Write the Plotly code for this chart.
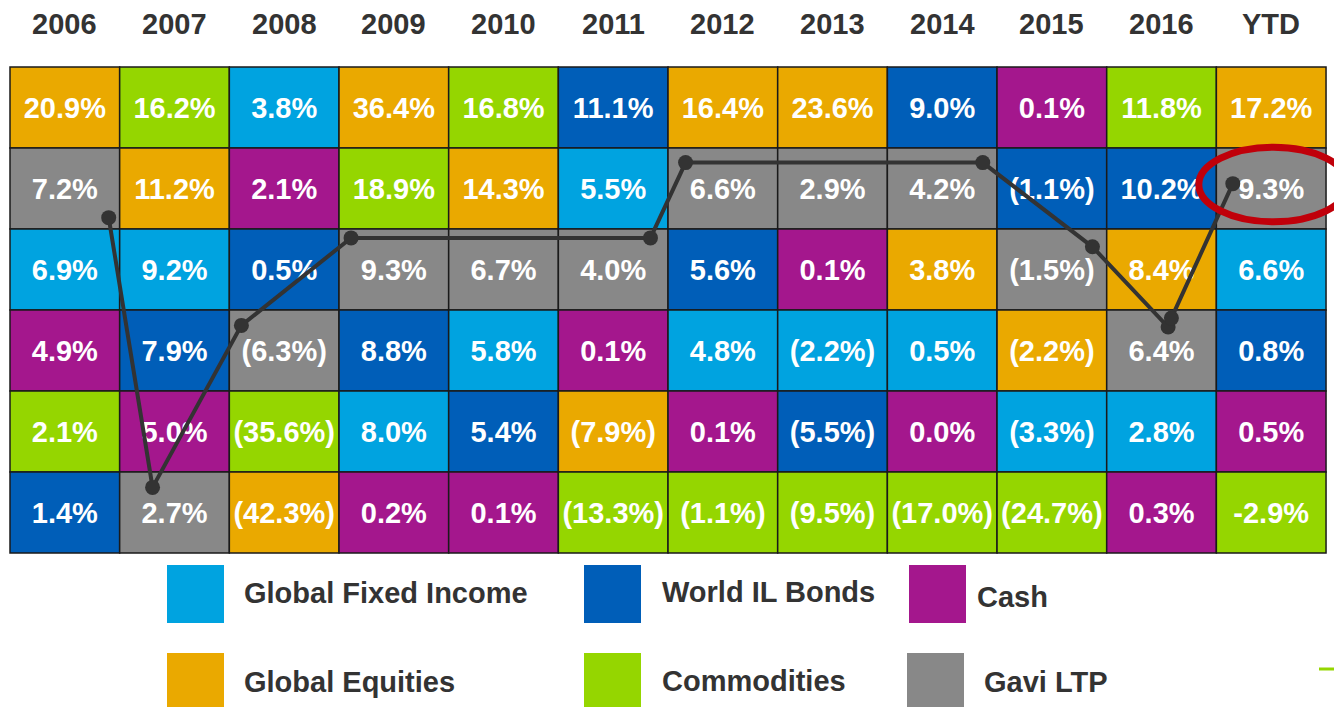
import plotly.graph_objects as go

# ---------------- data ----------------
years = ["2006", "2007", "2008", "2009", "2010", "2011",
         "2012", "2013", "2014", "2015", "2016", "YTD"]

# each column lists returns from best (top) to worst (bottom)
returns = {
    "2006": [20.9, 7.2, 6.9, 4.9, 2.1, 1.4],
    "2007": [16.2, 11.2, 9.2, 7.9, 5.0, 2.7],
    "2008": [3.8, 2.1, 0.5, -6.3, -35.6, -42.3],
    "2009": [36.4, 18.9, 9.3, 8.8, 8.0, 0.2],
    "2010": [16.8, 14.3, 6.7, 5.8, 5.4, 0.1],
    "2011": [11.1, 5.5, 4.0, 0.1, -7.9, -13.3],
    "2012": [16.4, 6.6, 5.6, 4.8, 0.1, -1.1],
    "2013": [23.6, 2.9, 0.1, -2.2, -5.5, -9.5],
    "2014": [9.0, 4.2, 3.8, 0.5, 0.0, -17.0],
    "2015": [0.1, -1.1, -1.5, -2.2, -3.3, -24.7],
    "2016": [11.8, 10.2, 8.4, 6.4, 2.8, 0.3],
    "YTD":  [17.2, 9.3, 6.6, 0.8, 0.5, -2.9],
}
assets = {
    "2006": ["GE", "LTP", "GFI", "CASH", "COM", "WIL"],
    "2007": ["COM", "GE", "GFI", "WIL", "CASH", "LTP"],
    "2008": ["GFI", "CASH", "WIL", "LTP", "COM", "GE"],
    "2009": ["GE", "COM", "LTP", "WIL", "GFI", "CASH"],
    "2010": ["COM", "GE", "LTP", "GFI", "WIL", "CASH"],
    "2011": ["WIL", "GFI", "LTP", "CASH", "GE", "COM"],
    "2012": ["GE", "LTP", "WIL", "GFI", "CASH", "COM"],
    "2013": ["GE", "LTP", "CASH", "GFI", "WIL", "COM"],
    "2014": ["WIL", "LTP", "GE", "GFI", "CASH", "COM"],
    "2015": ["CASH", "WIL", "LTP", "GE", "GFI", "COM"],
    "2016": ["COM", "WIL", "GE", "LTP", "GFI", "CASH"],
    "YTD":  ["GE", "LTP", "GFI", "WIL", "CASH", "COM"],
}
asset_names = {
    "GFI": "Global Fixed Income", "WIL": "World IL Bonds", "CASH": "Cash",
    "GE": "Global Equities", "COM": "Commodities", "LTP": "Gavi LTP",
}
asset_colors = {
    "GFI": "#00A3E0", "WIL": "#005EB8", "CASH": "#A4178D",
    "GE": "#EAA900", "COM": "#95D600", "LTP": "#888888",
}
legend_order = ["GFI", "WIL", "CASH", "GE", "COM", "LTP"]

# path of the Gavi LTP line (column units, row units from top)
gavi_path_x = [0.90, 1.30, 2.11, 3.11, 5.84, 6.16, 8.87, 9.87, 10.56, 10.59, 11.15]
gavi_path_y = [1.86, 5.19, 3.19, 2.11, 2.11, 1.18, 1.18, 2.22, 3.21, 3.10, 1.44]

highlight = ("YTD", 1)

# ---------------- figure ----------------
W, H = 1342, 707
OFF = 8  # page body margin compensation
X0_PX, COL_W = 10 - OFF, 109.67
Y0_PX, ROW_H = 67 - OFF, 81
FONT = "Liberation Sans, Arial, sans-serif"

fig = go.Figure()
shapes = []
annotations = []

def fmt(v, year):
    if v < 0 and year != "YTD":
        return f"({abs(v):.1f}%)"
    return f"{v:.1f}%"

tx, ty, tt = [], [], []
for ci, yr in enumerate(years):
    for ri, (v, a) in enumerate(zip(returns[yr], assets[yr])):
        shapes.append(dict(type="rect", xref="x", yref="y",
                           x0=ci, x1=ci + 1, y0=ri, y1=ri + 1,
                           fillcolor=asset_colors[a],
                           line=dict(color="#1a1a1a", width=1.5),
                           layer="below"))
        tx.append(ci + 0.5)
        ty.append(ri + 0.54)
        tt.append(fmt(v, yr))
    annotations.append(dict(x=ci + 0.5, y=-0.53, xref="x", yref="y",
                            text=yr, showarrow=False,
                            font=dict(family=FONT, size=29, color="#333333",
                                      weight="bold")))

fig.add_trace(go.Scatter(x=tx, y=ty, text=tt, mode="text",
                         textposition="middle center",
                         textfont=dict(family=FONT, size=29, color="white",
                                       weight="bold"),
                         hoverinfo="skip", showlegend=False))

fig.add_trace(go.Scatter(x=gavi_path_x, y=gavi_path_y, mode="lines+markers",
                         line=dict(color="#333333", width=4),
                         marker=dict(color="#333333", size=15),
                         hoverinfo="skip", showlegend=False))

# highlight ellipse around the YTD Gavi LTP cell
hc = years.index(highlight[0])
hr = highlight[1]
shapes.append(dict(type="circle", xref="x", yref="y",
                   x0=hc - 0.16, x1=hc + 1.2, y0=hr - 0.01, y1=hr + 0.91,
                   line=dict(color="#C0000A", width=7), layer="above"))

# legend (custom), page-pixel positions
leg_pos = {
    "GFI": (167, 565, 242, 593), "WIL": (584, 565, 660, 592),
    "CASH": (909, 565, 975, 597), "GE": (167, 653, 242, 682),
    "COM": (584, 653, 660, 681), "LTP": (907, 653, 982, 682),
}

def px(x):
    return (x - OFF) / W

def py(y):
    return 1 - (y - OFF) / H

for k in legend_order:
    sx, sy, lx, ly = leg_pos[k]
    shapes.append(dict(type="rect", xref="paper", yref="paper",
                       x0=px(sx), x1=px(sx + 57),
                       y0=py(sy + 58), y1=py(sy),
                       fillcolor=asset_colors[k], line=dict(width=0)))
    annotations.append(dict(x=px(lx), y=py(ly), xref="paper", yref="paper",
                            xanchor="left", yanchor="middle",
                            text=asset_names[k], showarrow=False,
                            font=dict(family=FONT, size=29, color="#333333",
                                      weight="bold")))

# small green decoration bottom-right
shapes.append(dict(type="line", xref="paper", yref="paper",
                   x0=px(1319), x1=px(1345), y0=py(669), y1=py(669),
                   line=dict(color="#95D600", width=3)))

fig.update_layout(
    width=W, height=H,
    margin=dict(l=0, r=0, t=0, b=0),
    paper_bgcolor="white", plot_bgcolor="white",
    shapes=shapes, annotations=annotations,
    xaxis=dict(range=[-X0_PX / COL_W, (W - X0_PX) / COL_W], visible=False,
               fixedrange=True),
    yaxis=dict(range=[(H - Y0_PX) / ROW_H, -Y0_PX / ROW_H], visible=False,
               fixedrange=True),
    showlegend=False,
)

fig.write_html("out.html")
